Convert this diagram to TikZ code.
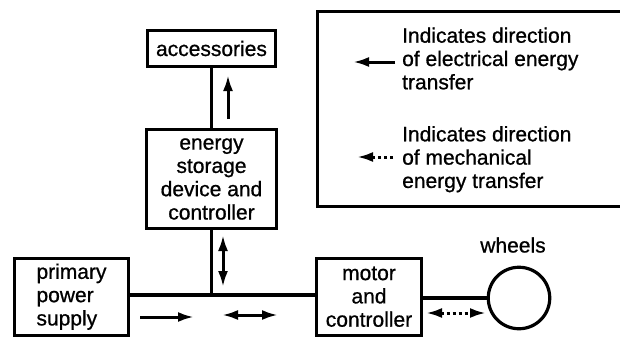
\documentclass[tikz,border=0pt]{standalone}
\usepackage{fontspec}
\setmainfont{Liberation Sans}[FakeBold=0.8]
\usetikzlibrary{arrows.meta, positioning}

\begin{document}
\begin{tikzpicture}[x=1pt, y=-1pt,
    font=\fontsize{21pt}{23.3pt}\selectfont,
    block/.style={draw=borderColour, line width=3.2pt, inner sep=0pt, align=center},
    link/.style={draw=borderColour, line width=3.2pt},
    elec/.style={draw=borderColour, line width=3pt, -{Latex[length=16pt,width=10pt]}},
    elecboth/.style={elec, {Latex[length=16pt,width=10pt]}-{Latex[length=16pt,width=10pt]}},
    mech/.style={elec, dash pattern=on 3.5pt off 2.5pt},
    mechboth/.style={elecboth, dash pattern=on 3.5pt off 2.5pt}]

    \definecolor{borderColour}{HTML}{000000}
    \definecolor{paperColour}{HTML}{FFFFFF}

    % Fix the page size
    \useasboundingbox[fill=paperColour] (0,0) rectangle (620,337);

    % Draw the blocks
    \node[block, minimum width=128, minimum height=36] (acc) at (211.5,48.5) {accessories};
    \node[block, minimum width=130, minimum height=99] (store) at (211.5,179)
        {energy\\storage\\device and\\controller};
    \node[block, align=left, minimum width=114, minimum height=77] (primary) at (71.5,296.7)
        {primary\\power\\supply};
    \node[block, minimum width=105, minimum height=77] (motor) at (369,296.7)
        {motor\\and\\controller};
    \node[block, circle, minimum size=61.5] (wheel) at (519,298) {};
    \node (wheelLabel) at (513,245) {wheels};

    % Draw the legend
    \node[block, minimum width=320, minimum height=195.5] (legend) at (477.5,109) {};
    \node[align=left, inner sep=0pt, anchor=west] (elecText) at (402,58.5)
        {Indicates direction\\of electrical energy\\transfer};
    \node[align=left, inner sep=0pt, anchor=west] (mechText) at (402,159.2)
        {Indicates direction\\of mechanical\\energy transfer};
    \draw[elec] (395,62) -- (353,62);
    \draw[mech] (393,157) -- (357,157);

    % Draw the connections
    \coordinate (tee) at (211.5,295);
    \draw[link] (store.north) -- (acc.south);
    \draw[link] (store.south) -- (tee);
    \draw[link] (primary.east |- tee) -- (motor.west |- tee);
    \draw[link] (motor.east |- wheel.west) -- (wheel.west);

    % Draw the energy flow arrows
    \draw[elec] (228,119) -- (228,75);
    \draw[elecboth] (223,235) -- (223,287);
    \draw[elec] (140,317) -- (194,317);
    \draw[elecboth] (222,315) -- (278,315);
    \draw[mechboth] (426,313) -- (486,313);

\end{tikzpicture}
\end{document}
